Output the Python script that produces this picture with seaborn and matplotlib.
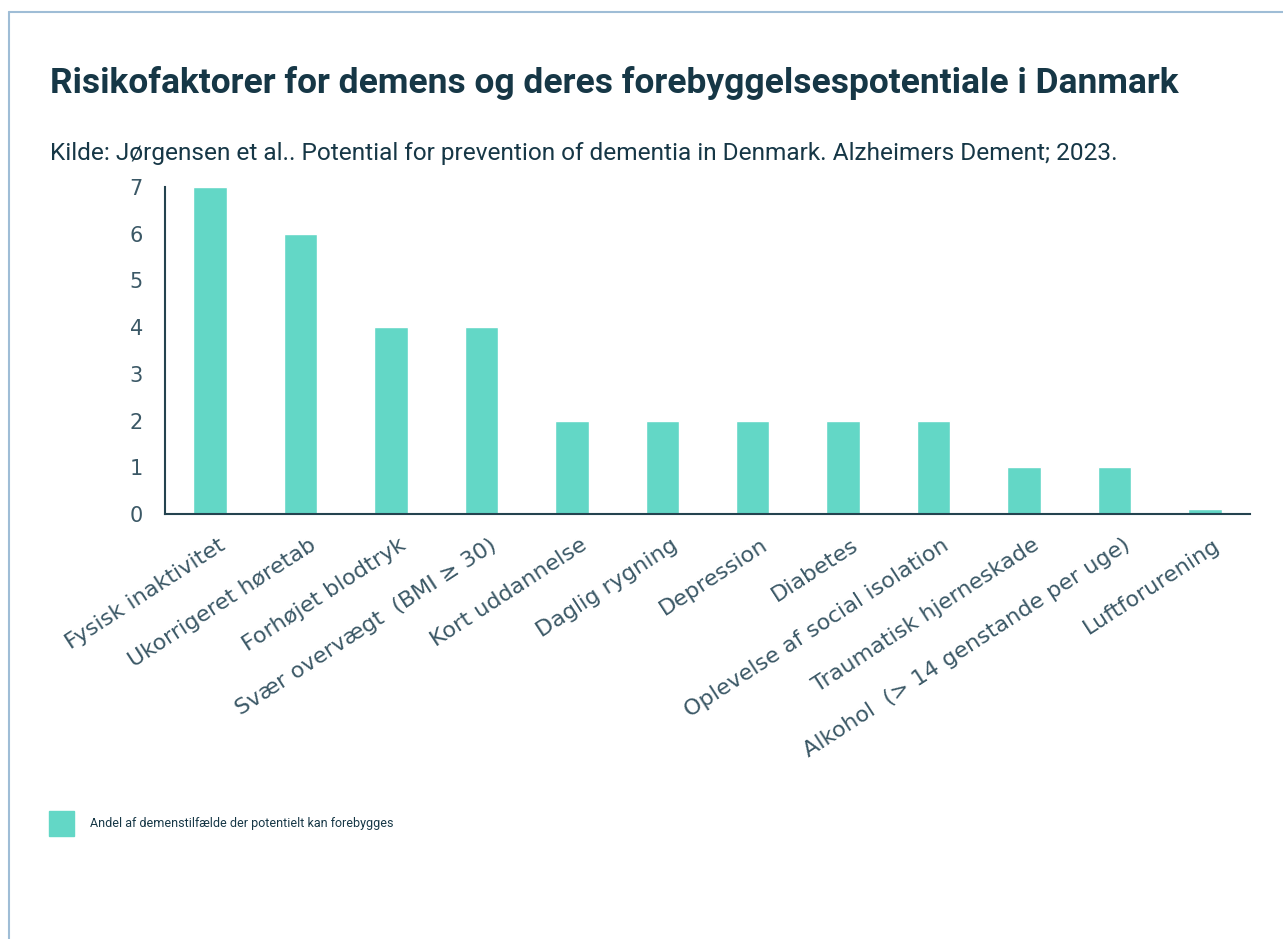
import matplotlib
matplotlib.use('Agg')
import matplotlib.pyplot as plt
from matplotlib.patches import Rectangle
from matplotlib.lines import Line2D
from matplotlib.transforms import ScaledTranslation
import pandas as pd
import seaborn as sns

categories = [
    'Fysisk inaktivitet',
    'Ukorrigeret høretab',
    'Forhøjet blodtryk',
    'Svær overvægt  (BMI ≥ 30)',
    'Kort uddannelse',
    'Daglig rygning',
    'Depression',
    'Diabetes',
    'Oplevelse af social isolation',
    'Traumatisk hjerneskade',
    'Alkohol  (> 14 genstande per uge)',
    'Luftforurening',
]
values = [7, 6, 4, 4, 2, 2, 2, 2, 2, 1, 1, 0.1]
yticks = [0, 1, 2, 3, 4, 5, 6, 7]

title = 'Risikofaktorer for demens og deres forebyggelsespotentiale i Danmark'
source = 'Kilde: Jørgensen et al.. Potential for prevention of dementia in Denmark. Alzheimers Dement; 2023.'
legend_label = 'Andel af demenstilfælde der potentielt kan forebygges'

bar_color = '#63d7c6'
dark = '#163746'
tick_color = '#3b5866'

df = pd.DataFrame({'risiko': categories, 'andel': values})

sns.set_style('white')
plt.rcParams['font.family'] = ['DejaVu Sans']

fig = plt.figure(figsize=(12.83, 9.39), dpi=100)
ax = fig.add_axes([0.1286, 0.4526, 0.8457, 0.3483])

sns.barplot(data=df, x='risiko', y='andel', color=bar_color, width=0.37,
            saturation=1, ax=ax)

ax.set_xlim(-0.5, len(categories) - 0.5)
ax.set_ylim(0, 7)
ax.set_yticks(yticks)
ax.set_xlabel('')
ax.set_ylabel('')
ax.tick_params(axis='both', length=0, colors=tick_color, labelsize=15)
ax.tick_params(axis='x', labelsize=16, pad=15)
ax.tick_params(axis='y', pad=16)
shift = ScaledTranslation(0.08, 0, fig.dpi_scale_trans)
for lab in ax.get_xticklabels():
    lab.set_rotation(33)
    lab.set_ha('right')
    lab.set_rotation_mode('anchor')
    lab.set_transform(lab.get_transform() + shift)
sns.despine(ax=ax)
for side in ['left', 'bottom']:
    ax.spines[side].set_color('#24434f')
    ax.spines[side].set_linewidth(1.5)

# card border
fig.add_artist(Line2D([9 / 1283, 1], [1 - 12 / 939, 1 - 12 / 939],
                      color='#9fbdd6', lw=1.5, transform=fig.transFigure))
fig.add_artist(Line2D([9 / 1283, 9 / 1283], [0, 1 - 12 / 939],
                      color='#9fbdd6', lw=1.5, transform=fig.transFigure))

fig.text(50 / 1283, 1 - 93 / 939, title, fontsize=25.5, fontweight='bold',
         color=dark, family='Roboto', va='baseline')
fig.text(50 / 1283, 1 - 160 / 939, source, fontsize=17.6,
         color=dark, family='Roboto', va='baseline')

fig.add_artist(Rectangle((49 / 1283, 1 - 836 / 939), 25 / 1283, 25 / 939,
                         color=bar_color, transform=fig.transFigure))
fig.text(90 / 1283, 1 - 824 / 939, legend_label, fontsize=9,
         color=dark, family='Roboto', va='center')

fig.savefig('out.png', dpi=100)
